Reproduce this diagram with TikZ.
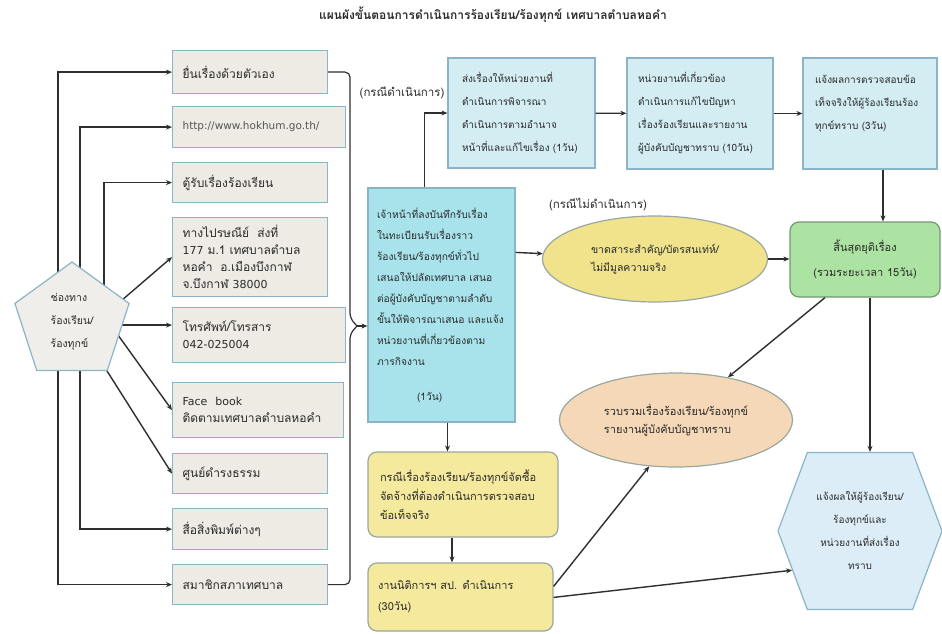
\documentclass[tikz,border=0pt]{standalone}
\usepackage{fontspec}
\setmainfont{Loma}[Script=Thai]
\newfontfamily\lat{DejaVu Sans}
\usetikzlibrary{shapes.geometric,shapes.symbols,arrows.meta,calc,backgrounds}
\definecolor{lincol}{HTML}{2E2E2E}
\definecolor{bline}{HTML}{8CB4C8}
\definecolor{lfill}{HTML}{EEEAE4}
\definecolor{tfill}{HTML}{D3EDF3}
\definecolor{cfill}{HTML}{A8E2EB}
\definecolor{gfill}{HTML}{ADE3A2}
\definecolor{gline}{HTML}{6F9A72}
\definecolor{yfill}{HTML}{F0E38C}
\definecolor{ybfill}{HTML}{F4E99D}
\definecolor{yline}{HTML}{9AA8A0}
\definecolor{ofill}{HTML}{F5D8B8}
\definecolor{hfill}{HTML}{DCEDF7}
\definecolor{pfill}{HTML}{EFEEEA}
\definecolor{txt}{HTML}{2B2B2B}
\definecolor{gtxt}{HTML}{555555}
\newcommand\lf{\fontsize{12}{17}\selectfont}
\newcommand\rf{\fontsize{10}{23}\selectfont}
\newcommand\cf{\fontsize{10.2}{21}\selectfont}
\newcommand\yf{\fontsize{11}{19}\selectfont}
\newcommand\zf{\fontsize{11}{21}\selectfont}
\newcommand\gf{\fontsize{11}{25}\selectfont}
\newcommand\ef{\fontsize{10.5}{18}\selectfont}
\newcommand\of{\fontsize{11}{18}\selectfont}
\newcommand\pf{\fontsize{10.5}{23}\selectfont}
\newcommand\hf{\fontsize{10}{23}\selectfont}
\newcommand\labf{\fontsize{11.5}{14}\selectfont}
\newcommand\ttl{\fontsize{12}{14}\selectfont\bfseries}
\begin{document}
\begin{tikzpicture}[x=1pt,y=-1pt,
  line/.style={draw=lincol, line width=1.4pt},
  arr/.style={line, -{Stealth[length=6pt,width=5pt]}},
  lbox/.style={draw=bline, fill=lfill, line width=1.2pt, anchor=north west, align=left, inner xsep=10pt, inner ysep=0pt, font=\lf, text=txt},
  tbox/.style={draw=bline, fill=tfill, line width=1.2pt, align=left, inner ysep=0pt, font=\rf, text=txt},
  ybox/.style={draw=yline, fill=ybfill, line width=1.2pt, rounded corners=9pt, align=left, inner ysep=0pt, text=txt},
  lab/.style={font=\labf, text=txt, inner sep=1pt}
]
\useasboundingbox (0,0) rectangle (942,634);

\node[font=\ttl, text=txt] (title) at (493,15) {แผนผังขั้นตอนการดำเนินการร้องเรียน/ร้องทุกข์ เทศบาลตำบลหอคำ};

% left channel boxes
\node[lbox, text width=135pt, minimum height=43pt] (b1) at (172,50) {ยื่นเรื่องด้วยตัวเอง};
\node[lbox, text width=153pt, minimum height=41pt, text=gtxt, font=\lat\fontsize{10.5}{16}\selectfont] (b2) at (172,106) {http://www.hokhum.go.th/};
\node[lbox, text width=135pt, minimum height=40pt] (b3) at (172,162) {ตู้รับเรื่องร้องเรียน};
\node[lbox, text width=135pt, minimum height=79pt] (b4) at (172,217) {ทางไปรษณีย์ \ ส่งที่\\{\lat\fontsize{11}{17}\selectfont 177} ม.1 เทศบาลตำบล\\หอคำ \ อ.เมืองบึงกาฬ\\จ.บึงกาฬ {\lat\fontsize{11}{17}\selectfont 38000}};
\node[lbox, text width=153pt, minimum height=55pt] (b5) at (172,307) {โทรศัพท์/โทรสาร\\{\lat\fontsize{11}{17}\selectfont 042-025004}};
\node[lbox, text width=151pt, minimum height=55pt] (b6) at (172,382) {{\lat\fontsize{11}{17}\selectfont Face \ book}\\ติดตามเทศบาลตำบลหอคำ};
\node[lbox, text width=135pt, minimum height=40pt] (b7) at (172,453) {ศูนย์ดำรงธรรม};
\node[lbox, text width=135pt, minimum height=41pt] (b8) at (172,508) {สื่อสิ่งพิมพ์ต่างๆ};
\node[lbox, text width=135pt, minimum height=40pt] (b9) at (172,564) {สมาชิกสภาเทศบาล};

% pentagon
\node[regular polygon, regular polygon sides=5, minimum size=120pt, draw=bline, fill=pfill, line width=1.2pt, align=left, font=\pf, text=txt, inner sep=0pt] (pent) at (72,322) {ช่องทาง\\ร้องเรียน/\\ร้องทุกข์};

\begin{pgfonlayer}{background}
\draw[arr] ($(pent.center)+(-14,0)$) |- (b1.west);
\draw[arr] ($(pent.center)+(-14,0)$) |- (b9.west);
\draw[arr] ($(pent.center)+(8,0)$) |- (b2.west);
\draw[arr] ($(pent.center)+(8,0)$) |- (b8.west);
\draw[arr] ($(pent.center)+(32,0)$) |- (b3.west);
\draw[arr] ($(pent.center)+(28,-3)$) -- (b4.west);
\path ($(b5.west)+(0,-10)$) coordinate (b5in);
\draw[arr] (pent.center |- b5in) -- (b5in);
\draw[arr] ($(pent.center)+(33,-5)$) -- (b6.west);
\draw[arr] ($(pent.center)+(23,30)$) -- (b7.west);
\end{pgfonlayer}

% central box
\node[tbox, fill=cfill, font=\cf, inner xsep=9pt, text width=129pt, minimum height=234pt] (cen) at (441.5,305) {เจ้าหน้าที่ลงบันทึกรับเรื่อง\\ในทะเบียนรับเรื่องราว\\ร้องเรียน/ร้องทุกข์ทั่วไป\\เสนอให้ปลัดเทศบาล~เสนอ\\ต่อผู้บังคับบัญชาตามลำดับ\\ขั้นให้พิจารณาเสนอ~และแจ้ง\\หน่วยงานที่เกี่ยวข้องตาม\\ภารกิจงาน\\[14pt]\hspace*{40pt}(1วัน)};

% brace
\coordinate (tip) at (357,326);
\draw[line, line width=1.2pt, rounded corners=5pt] (b1.east) -| (350,318) -- (tip);
\draw[line, line width=1.2pt, rounded corners=5pt] (b9.east) -| (350,334) -- (tip);
\draw[arr] (tip) -- (cen.west |- tip);

% top row
\node[tbox, inner xsep=14pt, text width=119pt, minimum height=110pt] (t1) at (521.5,113) {ส่งเรื่องให้หน่วยงานที่\\ดำเนินการพิจารณา\\ดำเนินการตามอำนาจ\\หน้าที่และแก้ไขเรื่อง (1วัน)};
\node[tbox, inner xsep=11pt, text width=124pt, minimum height=111pt] (t2) at (700,113.5) {หน่วยงานที่เกี่ยวข้อง\\ดำเนินการแก้ไขปัญหา\\เรื่องร้องเรียนและรายงาน\\ผู้บังคับบัญชาทราบ (10วัน)};
\node[tbox, inner xsep=12pt, text width=110pt, minimum height=111pt] (t3) at (870,113.5) {แจ้งผลการตรวจสอบข้อ\\เท็จจริงให้ผู้ร้องเรียนร้อง\\ทุกข์ทราบ (3วัน)\\~};

\node[lab] (l1) at (402,93) {(กรณีดำเนินการ)};
\node[lab] (l2) at (598,205) {(กรณีไม่ดำเนินการ)};

% right side shapes
\node[ellipse, draw=yline, fill=yfill, line width=1.2pt, minimum width=225pt, minimum height=86pt, inner sep=0pt, align=left, font=\ef, text=txt] (yel) at (655,259) {ขาดสาระสำคัญ/บัตรสนเท่ห์/\\ไม่มีมูลความจริง};
\node[draw=gline, fill=gfill, line width=1.2pt, rounded corners=9pt, minimum width=150pt, minimum height=75pt, align=center, font=\gf, text=txt, inner sep=0pt] (grn) at (865,259.5) {สิ้นสุดยุติเรื่อง\\(รวมระยะเวลา 15วัน)};
\node[ellipse, draw=yline, fill=ofill, line width=1.2pt, minimum width=233pt, minimum height=94pt, inner sep=0pt, align=left, font=\of, text=txt] (orn) at (676,420) {รวบรวมเรื่องร้องเรียน/ร้องทุกข์\\รายงานผู้บังคับบัญชาทราบ};
\node[signal, signal to=east and west, signal pointer angle=139, draw=bline, fill=hfill, line width=1.2pt, minimum width=164pt, minimum height=157pt, inner sep=0pt, align=center, font=\hf, text=txt] (hex) at (860,531) {แจ้งผลให้ผู้ร้องเรียน/\\ร้องทุกข์และ\\หน่วยงานที่ส่งเรื่อง\\ทราบ};

\node[ybox, font=\yf, inner xsep=12pt, text width=166pt, minimum height=85pt] (y1) at (463,494.5) {กรณีเรื่องร้องเรียน/ร้องทุกข์จัดซื้อ\\จัดจ้างที่ต้องดำเนินการตรวจสอบ\\ข้อเท็จจริง};
\node[ybox, font=\zf, inner xsep=10pt, text width=165pt, minimum height=68pt] (y2) at (460.5,597) {งานนิติการฯ สป. ดำเนินการ\\(30วัน)};

% right connectors
\draw[arr] ($(cen.north west)+(57,0)$) |- (t1.west);
\draw[arr] (t1) -- (t2);
\draw[arr] (t2) -- (t3);
\draw[arr] ($(t3.south)+(13,0)$) coordinate (t3s) -- (t3s |- grn.north);
\draw[arr] ($(cen.north east)+(0,65)$) -- (yel);
\draw[arr] (yel.east) -- (yel.east -| grn.west);
\draw[arr] ($(grn.south)+(-40,0)$) -- (orn);
\draw[arr] ($(grn.south)+(5,0)$) coordinate (gs) -- (gs |- hex.north);
\draw[arr] ($(cen.south)+(6,0)$) coordinate (cs) -- (cs |- y1.north);
\draw[arr] ($(y1.south)+(-11,0)$) coordinate (ys) -- (ys |- y2.north);
\draw[arr] ($(y2.north east)+(0,24)$) -- (orn.240);
\draw[arr] ($(y2.north east)+(0,35)$) -- (hex.210);
\end{tikzpicture}
\end{document}
